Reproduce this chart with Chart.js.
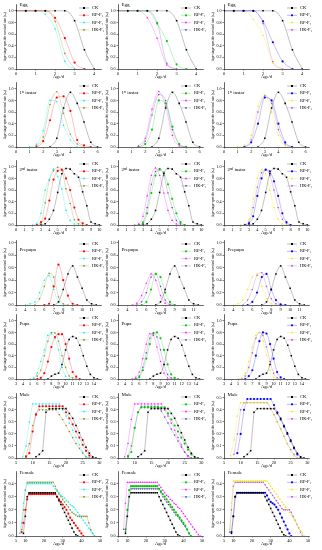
<!DOCTYPE html>
<html>
<head>
<meta charset="utf-8">
<script src="https://cdn.jsdelivr.net/npm/chart.js@4.4.0/dist/chart.umd.min.js"></script>
<style>
  body { margin: 0; background: #fff; width: 322px; height: 550px; overflow: hidden; position: relative; }
  canvas { position: absolute; }
</style>
</head>
<body>
<script>
// ---------------- series / colours ----------------
const seriesNames = ['CK', 'RP-F\u2081', 'RF-F\u2081', 'HK-F\u2081']
const colColors = [
  ['#000000', '#ff0000', '#00e8f0', '#808000'],
  ['#000000', '#00c800', '#ff00ff', '#4a4aa0'],
  ['#000000', '#0000ff', '#e8e800', '#b040c0'],
]
const yTitle = 'Age-stage-specific survival rate (s\u2093\u2c7c)'

// ---------------- tick labels ----------------
const survTicks = [0, 0.2, 0.4, 0.6, 0.8, 1.0]
const maleYTicks = [0, 0.1, 0.2, 0.3, 0.4, 0.5]
const femaleYTicks = [0, 0.1, 0.2, 0.3, 0.4]
const eggTicks = [0, 1, 2, 3, 4]
const inst1Ticks = [0, 1, 2, 3, 4, 5, 6]
const inst2Ticks = [0, 1, 2, 3, 4, 5, 6, 7, 8, 9, 10]
const prepTicks = [3, 4, 5, 6, 7, 8, 9, 10, 11]
const pupaTicks = [3, 4, 5, 6, 7, 8, 9, 10, 11, 12, 13, 14]
const maleTicks = [5, 10, 15, 20, 25, 30]
const femaleTicks = [5, 10, 20, 30, 40, 50]

// ---------------- egg ----------------
const eggAges = [0, 0.5, 1, 1.5, 2, 2.5, 3, 3.5, 4]
const eggCK  = [1, 1, 1, 1, 1, 1, 0.83, 0.33, 0]
const eggRP1 = [1, 1, 1, 1, 0.88, 0.53, 0.11, 0, null]
const eggRF1 = [1, 1, 1, 0.94, 0.69, 0.13, 0, null, null]
const eggHK1 = [1, 1, 1, 1, 0.82, 0.27, 0, null, null]
const eggRP2 = [1, 1, 1, 1, 0.78, 0.48, 0.08, 0, null]
const eggRF2 = [1, 1, 1, 0.88, 0.53, 0.07, 0, null, null]
const eggHK2 = [1, 1, 1, 1, 0.8, 0.1, 0, null, null]
const eggRP3 = [1, 1, 1, 1, 0.82, 0.46, 0.13, 0, null]
const eggRF3 = [1, 1, 1, 0.85, 0.58, 0.1, 0, null, null]
const eggHK3 = [1, 1, 1, 1, 0.78, 0.13, 0, null, null]

// ---------------- 1st instar ----------------
const inst1Ages = [1, 1.5, 2, 2.5, 3, 3.5, 4, 4.5, 5, 5.5, 6]
const inst1CK  = [null, null, null, 0, 0.15, 0.67, 0.94, 0.75, 0.43, 0.08, 0]
const inst1RP1 = [null, 0, 0.1, 0.46, 0.85, 0.87, 0.62, 0.12, 0.03, 0, null]
const inst1RF1 = [0, 0.05, 0.28, 0.8, 0.78, 0.37, 0.12, 0, null, null, null]
const inst1HK1 = [null, 0.02, 0.17, 0.73, 0.95, 0.58, 0.22, 0.05, 0, null, null]
const inst1RP2 = [null, 0, 0.05, 0.3, 0.8, 0.75, 0.35, 0.05, 0, null, null]
const inst1RF2 = [null, 0.02, 0.15, 0.65, 0.95, 0.7, 0.2, 0.02, 0, null, null]
const inst1HK2 = [null, 0, 0.1, 0.55, 0.9, 0.8, 0.3, 0.05, 0, null, null]
const inst1RP3 = [null, 0, 0.08, 0.4, 0.85, 0.8, 0.4, 0.08, 0, null, null]
const inst1RF3 = [0, 0.03, 0.2, 0.7, 0.9, 0.6, 0.2, 0.02, 0, null, null]
const inst1HK3 = [null, 0, 0.12, 0.6, 0.88, 0.75, 0.3, 0.05, 0, null, null]

// ---------------- 2nd instar ----------------
const inst2Ages = [2, 2.5, 3, 3.5, 4, 4.5, 5, 5.5, 6, 6.5, 7, 7.5, 8, 8.5, 9, 9.5, 10]
const inst2CK  = [null, null, 0, 0.02, 0.1, 0.25, 0.56, 0.88, 0.97, 0.96, 0.88, 0.82, 0.57, 0.33, 0.05, 0.02, 0]
const inst2RP1 = [null, 0, 0.05, 0.11, 0.42, 0.78, 0.93, 0.95, 0.8, 0.6, 0.3, 0.09, 0.03, 0, null, null, null]
const inst2RF1 = [0, 0.03, 0.2, 0.6, 0.78, 0.96, 0.83, 0.62, 0.25, 0.08, 0.02, 0, null, null, null, null, null]
const inst2HK1 = [null, 0, 0.02, 0.38, 0.77, 0.93, 0.99, 0.94, 0.62, 0.37, 0.09, 0.02, 0, null, null, null, null]
const inst2RP2 = [null, 0, 0.03, 0.2, 0.55, 0.85, 0.95, 0.9, 0.7, 0.45, 0.2, 0.05, 0, null, null, null, null]
const inst2RF2 = [0, 0.02, 0.15, 0.5, 0.85, 0.98, 0.85, 0.55, 0.25, 0.08, 0.02, 0, null, null, null, null, null]
const inst2HK2 = [null, 0, 0.05, 0.3, 0.7, 0.92, 0.97, 0.85, 0.55, 0.3, 0.08, 0.02, 0, null, null, null, null]
const inst2RP3 = [null, 0, 0.03, 0.15, 0.5, 0.8, 0.95, 0.92, 0.75, 0.5, 0.2, 0.05, 0, null, null, null, null]
const inst2RF3 = [0, 0.02, 0.1, 0.45, 0.8, 0.95, 0.88, 0.6, 0.3, 0.1, 0.02, 0, null, null, null, null, null]
const inst2HK3 = [null, 0, 0.05, 0.3, 0.65, 0.9, 0.95, 0.85, 0.6, 0.3, 0.1, 0.02, 0, null, null, null, null]

// ---------------- prepupa ----------------
const prepAges = [4, 4.5, 5, 5.5, 6, 6.5, 7, 7.5, 8, 8.5, 9, 9.5, 10, 10.5, 11, 11.5]
const prepCK  = [null, null, null, null, null, null, 0, 0.05, 0.25, 0.5, 0.63, 0.45, 0.27, 0.08, 0.02, 0]
const prepRP1 = [null, null, null, null, 0, 0.02, 0.3, 0.65, 0.4, 0.15, 0.02, 0, null, null, null, null]
const prepRF1 = [0, 0.02, 0.05, 0.2, 0.4, 0.47, 0.25, 0.05, 0, null, null, null, null, null, null, null]
const prepHK1 = [null, null, 0, 0.1, 0.3, 0.51, 0.45, 0.13, 0.02, 0, null, null, null, null, null, null]
const prepRP2 = [null, null, null, 0, 0.05, 0.25, 0.5, 0.45, 0.2, 0.05, 0, null, null, null, null, null]
const prepRF2 = [null, 0, 0.03, 0.15, 0.35, 0.5, 0.4, 0.15, 0.03, 0, null, null, null, null, null, null]
const prepHK2 = [null, null, 0, 0.05, 0.2, 0.45, 0.5, 0.3, 0.08, 0.01, 0, null, null, null, null, null]
const prepRP3 = [null, null, null, 0, 0.05, 0.2, 0.45, 0.5, 0.25, 0.08, 0.01, 0, null, null, null, null]
const prepRF3 = [0, 0.02, 0.08, 0.25, 0.45, 0.5, 0.3, 0.1, 0.02, 0, null, null, null, null, null, null]
const prepHK3 = [null, null, 0, 0.08, 0.25, 0.48, 0.52, 0.3, 0.1, 0.02, 0, null, null, null, null, null]

// ---------------- pupa ----------------
const pupaAges = [5, 5.5, 6, 6.5, 7, 7.5, 8, 8.5, 9, 9.5, 10, 10.5, 11, 11.5, 12, 12.5, 13, 13.5, 14, 14.5]
const pupaCK  = [null, null, null, null, null, 0, 0.05, 0.08, 0.1, 0.25, 0.5, 0.68, 0.73, 0.7, 0.58, 0.4, 0.22, 0.08, 0.02, 0]
const pupaRP1 = [null, null, 0, 0.02, 0.1, 0.3, 0.55, 0.72, 0.77, 0.77, 0.6, 0.35, 0.12, 0.04, 0, null, null, null, null, null]
const pupaRF1 = [0, 0.02, 0.1, 0.3, 0.5, 0.75, 0.78, 0.7, 0.5, 0.2, 0.05, 0, null, null, null, null, null, null, null, null]
const pupaHK1 = [null, 0, 0.05, 0.15, 0.4, 0.65, 0.8, 0.79, 0.65, 0.4, 0.2, 0.05, 0.02, 0, null, null, null, null, null, null]
const pupaRP2 = [null, 0, 0.03, 0.15, 0.35, 0.6, 0.78, 0.8, 0.7, 0.5, 0.25, 0.08, 0.02, 0, null, null, null, null, null, null]
const pupaRF2 = [0, 0.03, 0.12, 0.35, 0.6, 0.78, 0.75, 0.55, 0.3, 0.1, 0.02, 0, null, null, null, null, null, null, null, null]
const pupaHK2 = [null, 0, 0.05, 0.2, 0.45, 0.7, 0.8, 0.72, 0.5, 0.25, 0.08, 0.02, 0, null, null, null, null, null, null, null]
const pupaRP3 = [null, null, 0, 0.05, 0.15, 0.4, 0.65, 0.8, 0.78, 0.6, 0.35, 0.12, 0.03, 0, null, null, null, null, null, null]
const pupaRF3 = [0, 0.02, 0.1, 0.3, 0.55, 0.75, 0.8, 0.65, 0.4, 0.15, 0.03, 0, null, null, null, null, null, null, null, null]
const pupaHK3 = [null, 0, 0.05, 0.2, 0.45, 0.7, 0.8, 0.75, 0.55, 0.3, 0.1, 0.02, 0, null, null, null, null, null, null, null]

// ---------------- male (one value per day, 5..30) ----------------
const maleAges = [5, 6, 7, 8, 9, 10, 11, 12, 13, 14, 15, 16, 17, 18, 19, 20, 21, 22, 23, 24, 25, 26, 27, 28, 29, 30]
const maleCK  = [null, null, null, null, null, null, 0.01, 0.03, 0.06, 0.38, 0.41, 0.41, 0.41, 0.41, 0.41, 0.41, 0.37, 0.33, 0.27, 0.21, 0.15, 0.09, 0.04, 0.01, 0, null]
const maleRP1 = [null, null, null, 0.01, 0.04, 0.22, 0.36, 0.43, 0.43, 0.43, 0.43, 0.43, 0.43, 0.43, 0.43, 0.38, 0.33, 0.28, 0.22, 0.17, 0.11, 0.06, 0.02, 0, null, null]
const maleRF1 = [null, null, 0.01, 0.1, 0.3, 0.45, 0.45, 0.45, 0.45, 0.45, 0.45, 0.45, 0.45, 0.45, 0.4, 0.35, 0.29, 0.23, 0.17, 0.11, 0.05, 0.01, 0, null, null, null]
const maleHK1 = [null, null, null, 0.02, 0.12, 0.27, 0.37, 0.4, 0.4, 0.4, 0.4, 0.4, 0.4, 0.36, 0.32, 0.27, 0.22, 0.17, 0.12, 0.08, 0.04, 0.01, 0, null, null, null]
const maleRP2 = [null, null, null, 0.01, 0.05, 0.25, 0.38, 0.42, 0.42, 0.42, 0.42, 0.42, 0.42, 0.42, 0.42, 0.37, 0.32, 0.27, 0.22, 0.17, 0.12, 0.07, 0.03, 0, null, null]
const maleRF2 = [null, null, 0.01, 0.12, 0.32, 0.45, 0.45, 0.45, 0.45, 0.45, 0.45, 0.45, 0.45, 0.45, 0.4, 0.35, 0.29, 0.23, 0.17, 0.11, 0.05, 0.01, 0, null, null, null]
const maleHK2 = [null, null, null, 0.02, 0.1, 0.25, 0.38, 0.43, 0.43, 0.43, 0.43, 0.43, 0.43, 0.39, 0.34, 0.29, 0.24, 0.19, 0.14, 0.09, 0.05, 0.02, 0, null, null, null]
const maleRP3 = [null, null, null, null, 0.04, 0.2, 0.4, 0.49, 0.49, 0.49, 0.49, 0.49, 0.49, 0.49, 0.49, 0.44, 0.38, 0.32, 0.26, 0.2, 0.14, 0.08, 0.03, 0, null, null]
const maleRF3 = [null, null, 0.02, 0.15, 0.35, 0.46, 0.46, 0.46, 0.46, 0.46, 0.46, 0.46, 0.46, 0.46, 0.41, 0.36, 0.3, 0.24, 0.18, 0.12, 0.06, 0.02, 0, null, null, null]
const maleHK3 = [null, null, null, 0.03, 0.2, 0.4, 0.46, 0.46, 0.46, 0.46, 0.46, 0.46, 0.46, 0.46, 0.41, 0.36, 0.3, 0.24, 0.18, 0.12, 0.07, 0.03, 0, null, null, null]

// ---------------- female (one value per day, 5..50) ----------------
const femAges = [5, 6, 7, 8, 9, 10, 11, 12, 13, 14, 15, 16, 17, 18, 19, 20, 21, 22, 23, 24, 25, 26, 27, 28, 29, 30,
  31, 32, 33, 34, 35, 36, 37, 38, 39, 40, 41, 42, 43, 44, 45, 46, 47, 48, 49, 50]
const femCK  = [null, null, null, null, 0.02, 0.15, 0.3, 0.33, 0.33, 0.33, 0.33, 0.33, 0.33, 0.33, 0.33, 0.33, 0.33, 0.33, 0.33, 0.33, 0.33, 0.33,
  0.3, 0.27, 0.24, 0.21, 0.18, 0.15, 0.12, 0.09, 0.06, 0.03, 0.01, 0, null, null, null, null, null, null, null, null, null, null, null, null]
const femRP1 = [null, null, null, 0.03, 0.1, 0.2, 0.28, 0.32, 0.32, 0.32, 0.32, 0.32, 0.32, 0.32, 0.32, 0.32, 0.32, 0.32, 0.32, 0.32, 0.32, 0.32,
  0.3, 0.28, 0.26, 0.24, 0.22, 0.2, 0.17, 0.14, 0.12, 0.1, 0.08, 0.06, 0.04, 0.02, 0, null, null, null, null, null, null, null, null, null]
const femRF1 = [null, null, 0.02, 0.1, 0.25, 0.35, 0.4, 0.4, 0.4, 0.4, 0.4, 0.4, 0.4, 0.4, 0.4, 0.4, 0.4, 0.4, 0.4, 0.4,
  0.38, 0.36, 0.34, 0.33, 0.31, 0.3, 0.29, 0.27, 0.26, 0.24, 0.23, 0.22, 0.2, 0.18, 0.16, 0.14, 0.12, 0.1, 0.08, 0.06, 0.04, 0.02, 0, null, null, null]
const femHK1 = [null, null, null, 0.05, 0.2, 0.35, 0.41, 0.41, 0.41, 0.41, 0.41, 0.41, 0.41, 0.41, 0.41, 0.41, 0.41, 0.41, 0.41, 0.41, 0.41,
  0.38, 0.35, 0.32, 0.3, 0.28, 0.26, 0.24, 0.22, 0.2, 0.18, 0.17, 0.16, 0.15, 0.15, 0.15, 0.15, 0.15, 0.15, 0.1, 0.05, 0.02, 0, null, null, null]
const femRP2 = [null, null, null, null, 0.05, 0.2, 0.35, 0.38, 0.38, 0.38, 0.38, 0.38, 0.38, 0.38, 0.38, 0.38, 0.38, 0.38, 0.38, 0.38, 0.38, 0.38,
  0.36, 0.34, 0.32, 0.3, 0.28, 0.26, 0.24, 0.22, 0.2, 0.18, 0.16, 0.14, 0.12, 0.1, 0.08, 0.05, 0.02, 0, null, null, null, null, null, null]
const femRF2 = [null, null, null, 0.05, 0.25, 0.41, 0.41, 0.41, 0.41, 0.41, 0.41, 0.41, 0.41, 0.41, 0.41, 0.41, 0.41, 0.41, 0.41, 0.41, 0.41, 0.41,
  0.39, 0.37, 0.35, 0.33, 0.31, 0.3, 0.28, 0.27, 0.25, 0.24, 0.22, 0.21, 0.19, 0.17, 0.15, 0.13, 0.11, 0.09, 0.07, 0.05, 0.03, 0.01, 0, null]
const femHK2 = [null, null, null, null, 0.03, 0.15, 0.3, 0.36, 0.36, 0.36, 0.36, 0.36, 0.36, 0.36, 0.36, 0.36, 0.36, 0.36, 0.36, 0.36, 0.36, 0.36, 0.36,
  0.33, 0.3, 0.28, 0.26, 0.24, 0.22, 0.2, 0.18, 0.16, 0.15, 0.13, 0.11, 0.09, 0.07, 0.05, 0.02, 0, null, null, null, null, null, null]
const femRP3 = [null, null, null, null, 0.03, 0.15, 0.3, 0.33, 0.33, 0.33, 0.33, 0.33, 0.33, 0.33, 0.33, 0.33, 0.33, 0.33, 0.33, 0.33, 0.33, 0.33, 0.33,
  0.31, 0.28, 0.26, 0.25, 0.24, 0.22, 0.2, 0.17, 0.14, 0.11, 0.08, 0.05, 0.02, 0, null, null, null, null, null, null, null, null, null]
const femRF3 = [null, null, null, 0.05, 0.25, 0.42, 0.42, 0.42, 0.42, 0.42, 0.42, 0.42, 0.42, 0.42, 0.42, 0.42, 0.42, 0.42, 0.42, 0.42, 0.42, 0.42, 0.42, 0.42,
  0.4, 0.38, 0.36, 0.34, 0.32, 0.3, 0.28, 0.26, 0.24, 0.22, 0.2, 0.18, 0.16, 0.14, 0.12, 0.09, 0.06, 0.04, 0.02, 0, null, null]
const femHK3 = [null, null, null, 0.03, 0.2, 0.38, 0.41, 0.41, 0.41, 0.41, 0.41, 0.41, 0.41, 0.41, 0.41, 0.41, 0.41, 0.41, 0.41, 0.41, 0.41, 0.41,
  0.39, 0.37, 0.35, 0.33, 0.31, 0.29, 0.27, 0.25, 0.23, 0.21, 0.2, 0.2, 0.2, 0.2, 0.18, 0.15, 0.12, 0.09, 0.06, 0.03, 0, null, null, null]

// ---------------- panel grid ----------------
const stages = [
  { title: 'Egg', ages: eggAges, ck: eggCK, cols: [[eggRP1, eggRF1, eggHK1], [eggRP2, eggRF2, eggHK2], [eggRP3, eggRF3, eggHK3]],
    xMin: 0, xMax: 4.35, xTicks: eggTicks, yMax: 1.117, yTicks: survTicks, smooth: true, titleY: 5 },
  { title: '1\u02e2\u1d57 instar', ages: inst1Ages, ck: inst1CK, cols: [[inst1RP1, inst1RF1, inst1HK1], [inst1RP2, inst1RF2, inst1HK2], [inst1RP3, inst1RF3, inst1HK3]],
    xMin: 0, xMax: 6.25, xTicks: inst1Ticks, yMax: 1.117, yTicks: survTicks, smooth: true, titleY: 15 },
  { title: '2\u207f\u1d48 instar', ages: inst2Ages, ck: inst2CK, cols: [[inst2RP1, inst2RF1, inst2HK1], [inst2RP2, inst2RF2, inst2HK2], [inst2RP3, inst2RF3, inst2HK3]],
    xMin: 0, xMax: 10.2, xTicks: inst2Ticks, yMax: 1.117, yTicks: survTicks, smooth: true, titleY: 14 },
  { title: 'Prepupa', ages: prepAges, ck: prepCK, cols: [[prepRP1, prepRF1, prepHK1], [prepRP2, prepRF2, prepHK2], [prepRP3, prepRF3, prepHK3]],
    xMin: 3, xMax: 12, xTicks: prepTicks, yMax: 1.047, yTicks: survTicks, smooth: true, titleY: 14 },
  { title: 'Pupa', ages: pupaAges, ck: pupaCK, cols: [[pupaRP1, pupaRF1, pupaHK1], [pupaRP2, pupaRF2, pupaHK2], [pupaRP3, pupaRF3, pupaHK3]],
    xMin: 3, xMax: 15, xTicks: pupaTicks, yMax: 1.117, yTicks: survTicks, smooth: true, titleY: 14 },
  { title: 'Male', ages: maleAges, ck: maleCK, cols: [[maleRP1, maleRF1, maleHK1], [maleRP2, maleRF2, maleHK2], [maleRP3, maleRF3, maleHK3]],
    xMin: 5, xMax: 30.5, xTicks: maleTicks, yMax: 0.54, yTicks: maleYTicks, smooth: false, titleY: 6 },
  { title: 'Female', ages: femAges, ck: femCK, cols: [[femRP1, femRF1, femHK1], [femRP2, femRF2, femHK2], [femRP3, femRF3, femHK3]],
    xMin: 5, xMax: 50.5, xTicks: femaleTicks, yMax: 0.496, yTicks: femaleYTicks, smooth: false, titleY: 6 },
]
const colLeft = [0, 102, 208]
const rowTop = [0, 78, 156, 236, 310, 389, 467]
const markerStyles = ['rect', 'circle', 'triangle', 'triangle']
const SERIF = '"Liberation Serif", "DejaVu Serif", serif'

Chart.defaults.font.family = SERIF
Chart.defaults.color = '#000'

// thin, pale connecting lines like the original export
function faded(hex, a) {
  const n = parseInt(hex.slice(1), 16)
  return `rgba(${n >> 16}, ${(n >> 8) & 255}, ${n & 255}, ${a})`
}

// marker for the in-plot legend
function drawMarker(ctx, i, x, y, r) {
  ctx.beginPath()
  if (i === 0) ctx.rect(x - r * 0.75, y - r * 0.75, r * 1.5, r * 1.5)
  else if (i === 1) ctx.arc(x, y, r * 0.85, 0, Math.PI * 2)
  else if (i === 2) { ctx.moveTo(x, y - r); ctx.lineTo(x + r * 0.9, y + r * 0.55); ctx.lineTo(x - r * 0.9, y + r * 0.55) }
  else { ctx.moveTo(x, y + r); ctx.lineTo(x + r * 0.9, y - r * 0.55); ctx.lineTo(x - r * 0.9, y - r * 0.55) }
  ctx.closePath()
  ctx.fill()
}

// panel title + legend drawn inside the plot area
const panelDecor = {
  id: 'panelDecor',
  afterDraw(chart, args, opts) {
    const { ctx, chartArea } = chart
    ctx.save()
    ctx.textBaseline = 'middle'
    ctx.fillStyle = '#000'
    ctx.font = '5px ' + SERIF
    ctx.fillText(opts.title, chartArea.left + 3.5, opts.titleY)
    ctx.font = '4.5px ' + SERIF
    chart.data.datasets.forEach((ds, i) => {
      const y = chartArea.top + 4 + i * 7.3
      const x0 = chartArea.right - 22, x1 = chartArea.right - 12
      ctx.strokeStyle = ds.borderColor
      ctx.lineWidth = 0.5
      ctx.beginPath(); ctx.moveTo(x0, y); ctx.lineTo(x1, y); ctx.stroke()
      ctx.fillStyle = ds.pointBackgroundColor
      drawMarker(ctx, i, (x0 + x1) / 2, y, 1.3)
      ctx.fillStyle = '#000'
      ctx.fillText(ds.label, chartArea.right - 9, y)
    })
    ctx.restore()
  },
}

function makePanel(row, col) {
  const st = stages[row]
  const cv = document.createElement('canvas')
  cv.width = 112; cv.height = 84
  cv.style.left = colLeft[col] + 'px'
  cv.style.top = rowTop[row] + 'px'
  document.body.appendChild(cv)

  const lists = [st.ck].concat(st.cols[col])
  const datasets = lists.map((vals, i) => ({
    label: seriesNames[i],
    data: st.ages.map((a, k) => ({ x: a, y: vals[k] })).filter(p => p.y !== null),
    borderColor: faded(colColors[col][i], 0.55),
    pointBackgroundColor: colColors[col][i],
    borderWidth: 0.45,
    pointRadius: 1.1,
    pointBorderWidth: 0,
    pointStyle: markerStyles[i],
    pointRotation: i === 3 ? 180 : 0,
    cubicInterpolationMode: st.smooth ? 'monotone' : 'default',
    tension: 0,
  }))

  new Chart(cv, {
    type: 'line',
    data: { datasets },
    plugins: [panelDecor],
    options: {
      responsive: false,
      animation: false,
      events: [],
      layout: { padding: { left: 3, right: 11, top: 2, bottom: 4 } },
      plugins: {
        legend: { display: false },
        tooltip: { enabled: false },
        panelDecor: { title: st.title, titleY: st.titleY },
      },
      scales: {
        x: {
          type: 'linear', min: st.xMin, max: st.xMax,
          afterFit: s => { s.height = 11 },
          afterBuildTicks: s => { s.ticks = st.xTicks.map(v => ({ value: v })) },
          ticks: { font: { size: 4.3 }, padding: 0.5, autoSkip: false, maxRotation: 0 },
          grid: { drawOnChartArea: false, tickLength: 1.5, color: '#000', lineWidth: 0.5 },
          border: { color: '#000', width: 0.6 },
          title: { display: true, text: 'Age/d', font: { size: 4.5 }, padding: 0 },
        },
        y: {
          min: 0, max: st.yMax,
          afterFit: s => { s.width = 13 },
          afterBuildTicks: s => { s.ticks = st.yTicks.map(v => ({ value: v })) },
          ticks: { font: { size: 4.1 }, padding: 1, autoSkip: false, callback: v => v.toFixed(1) },
          grid: { drawOnChartArea: false, tickLength: 1.5, color: '#000', lineWidth: 0.5 },
          border: { color: '#000', width: 0.6 },
          title: { display: true, text: yTitle, font: { size: 3.4 }, padding: 0 },
        },
      },
    },
  })
}

for (let r = 0; r < stages.length; r++) {
  for (let c = 0; c < 3; c++) makePanel(r, c)
}
</script>
</body>
</html>
